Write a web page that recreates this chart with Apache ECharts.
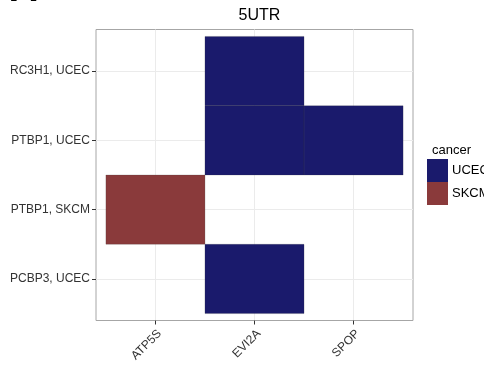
<!DOCTYPE html>
<html>
<head>
<meta charset="utf-8">
<script src="https://cdn.jsdelivr.net/npm/echarts@6/dist/echarts.min.js"></script>
<style>html,body{margin:0;padding:0;background:#fff;}#c{width:484px;height:370px;}</style>
</head>
<body>
<div id="c"></div>
<script>
var xCategories = ['ATP5S', 'EVI2A', 'SPOP'];
var yCategories = ['PCBP3, UCEC', 'PTBP1, SKCM', 'PTBP1, UCEC', 'RC3H1, UCEC'];
var cancerLevels = ['UCEC', 'SKCM'];
var tileX = ['EVI2A', 'EVI2A', 'SPOP', 'ATP5S', 'EVI2A'];
var tileY = ['RC3H1, UCEC', 'PTBP1, UCEC', 'PTBP1, UCEC', 'PTBP1, SKCM', 'PCBP3, UCEC'];
var tileCancer = ['UCEC', 'UCEC', 'UCEC', 'SKCM', 'UCEC'];
var cancerColors = {UCEC: '#1a1a6c', SKCM: '#8a3a3b'};

var FONT = '"Liberation Sans", Arial, sans-serif';
var xPos = xCategories.map(function (d, i) { return i + 1; });
var yPos = yCategories.map(function (d, i) { return i + 1; });

function tileRender(params, api) {
  var x = api.value(0), y = api.value(1);
  var p0 = api.coord([x - 0.5, y + 0.5]);
  var p1 = api.coord([x + 0.5, y - 0.5]);
  return {
    type: 'rect',
    shape: {x: p0[0], y: p0[1], width: p1[0] - p0[0], height: p1[1] - p0[1]},
    style: {fill: api.visual('color'), stroke: 'rgba(60,60,60,0.35)', lineWidth: 0.6}
  };
}

var series = cancerLevels.map(function (lev) {
  var data = [];
  for (var i = 0; i < tileX.length; i++) {
    if (tileCancer[i] === lev) {
      data.push([xCategories.indexOf(tileX[i]) + 1, yCategories.indexOf(tileY[i]) + 1]);
    }
  }
  return {
    name: lev,
    type: 'custom',
    renderItem: tileRender,
    itemStyle: {color: cancerColors[lev]},
    encode: {x: 0, y: 1},
    data: data,
    z: 3
  };
});

var chart = echarts.init(document.getElementById('c'), null, {renderer: 'canvas'});
chart.setOption({
  animation: false,
  backgroundColor: '#fff',
  title: [
    {text: '5UTR', left: 254.5, textAlign: 'center', top: 3,
     textStyle: {fontFamily: FONT, fontSize: 16, fontWeight: 'normal', color: '#000'}},
    {text: 'cancer', left: 427, top: 139,
     textStyle: {fontFamily: FONT, fontSize: 13, fontWeight: 'normal', color: '#000'}}
  ],
  graphic: [
    {type: 'text', x: 10, y: 9.5, z: 10, style: {text: 'A', fontFamily: FONT, fontSize: 38, fontWeight: 'bold', fill: '#000', verticalAlign: 'bottom', align: 'left'}}
  ],
  legend: {
    data: cancerLevels,
    orient: 'vertical',
    left: 427, top: 159,
    padding: 0,
    itemWidth: 21, itemHeight: 23, itemGap: 0,
    icon: 'rect',
    textStyle: {fontFamily: FONT, fontSize: 13, color: '#000', padding: [0, 0, 0, -1]},
    selectedMode: false
  },
  grid: {left: 96, top: 29.5, width: 317, height: 291, show: true, borderColor: '#a6a6a6', borderWidth: 1, backgroundColor: '#fff', containLabel: false},
  xAxis: {
    type: 'value', min: 0.4, max: 3.6,
    axisLine: {show: false},
    axisTick: {show: true, customValues: xPos, length: 4, lineStyle: {color: '#333', width: 1}},
    axisLabel: {show: true, customValues: xPos, rotate: 45, margin: 7,
      align: 'right', verticalAlign: 'top',
      fontFamily: FONT, fontSize: 12, color: '#333',
      formatter: function (v) { return xCategories[Math.round(v) - 1] || ''; }},
    splitLine: {show: true, lineStyle: {color: '#ebebeb', width: 1}}
  },
  yAxis: {
    type: 'value', min: 0.4, max: 4.6,
    axisLine: {show: false},
    axisTick: {show: true, customValues: yPos, length: 4, lineStyle: {color: '#333', width: 1}},
    axisLabel: {show: true, customValues: yPos, margin: 6,
      fontFamily: FONT, fontSize: 12, color: '#333',
      formatter: function (v) { return yCategories[Math.round(v) - 1] || ''; }},
    splitLine: {show: true, lineStyle: {color: '#ebebeb', width: 1}}
  },
  series: series
});
</script>
</body>
</html>
